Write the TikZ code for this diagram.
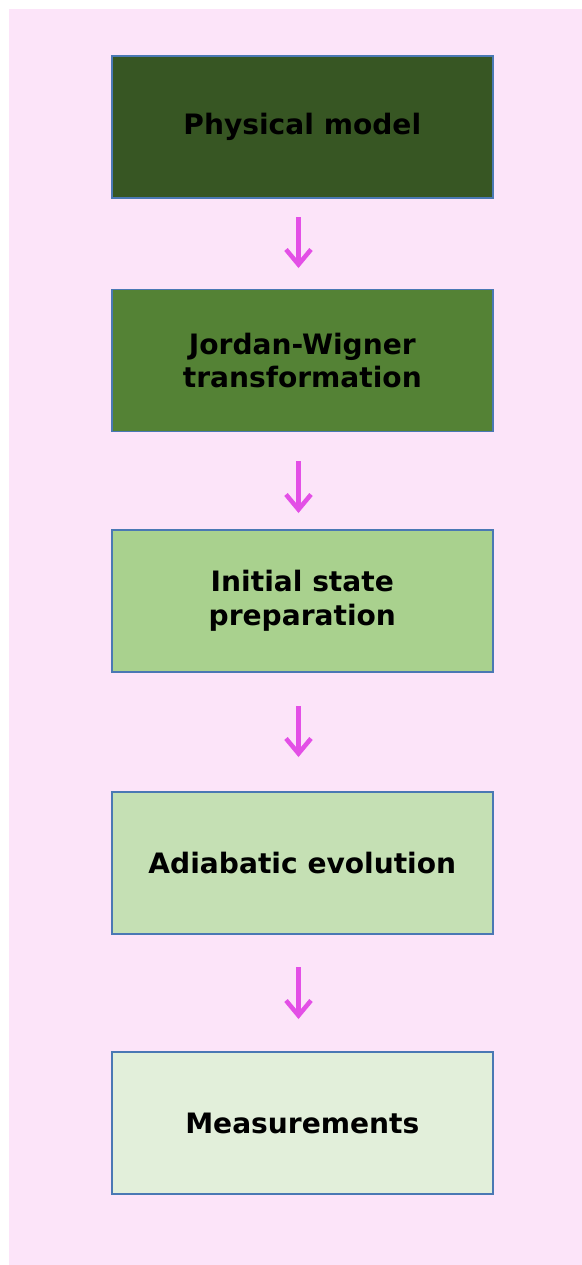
\documentclass[tikz,border=0pt]{standalone}
\usepackage{fontspec}
\setmainfont{DejaVu Sans}
\usetikzlibrary{arrows.meta}
\definecolor{bgpink}{HTML}{FCE4F9}
\definecolor{edgeblue}{HTML}{4A78B4}
\definecolor{arrowmag}{HTML}{E34FE6}
\definecolor{gA}{HTML}{375623}
\definecolor{gB}{HTML}{548235}
\definecolor{gC}{HTML}{A9D18E}
\definecolor{gD}{HTML}{C5E0B4}
\definecolor{gE}{HTML}{E2EFDA}
\tikzset{
  stagebox/.style={draw=edgeblue, line width=1.6bp, minimum width=381bp,
    minimum height=142bp, inner sep=0pt, align=center,
    font=\fontsize{28.2}{34}\selectfont\bfseries},
  flowarrow/.style={draw=arrowmag, line width=4.5bp, line cap=butt,
    -{Straight Barb[length=15bp,width=25bp,line width=4.5bp]}},
}
\begin{document}
\begin{tikzpicture}[x=1bp,y=-1bp]
  \useasboundingbox (0,0) rectangle (582,1265);
  \fill[bgpink] (9,9) rectangle (582,1265);
  \node[stagebox, fill=gA] (s1) at (302.3,127) {Physical model};
  \node[stagebox, fill=gB] (s2) at (302.3,360.5) {Jordan-Wigner\\transformation};
  \node[stagebox, fill=gC] (s3) at (302.3,601) {Initial state\\preparation};
  \node[stagebox, fill=gD] (s4) at (302.3,863) {Adiabatic evolution};
  \node[stagebox, fill=gE] (s5) at (302.3,1123) {Measurements};
  \coordinate (a1s) at (298.5,217); \coordinate (a1e) at (298.5,268);
  \coordinate (a2s) at (298.5,461); \coordinate (a2e) at (298.5,513);
  \coordinate (a3s) at (298.5,706); \coordinate (a3e) at (298.5,757);
  \coordinate (a4s) at (298.5,967); \coordinate (a4e) at (298.5,1019);
  \draw[flowarrow] (a1s) -- (a1e);
  \draw[flowarrow] (a2s) -- (a2e);
  \draw[flowarrow] (a3s) -- (a3e);
  \draw[flowarrow] (a4s) -- (a4e);
\end{tikzpicture}
\end{document}
